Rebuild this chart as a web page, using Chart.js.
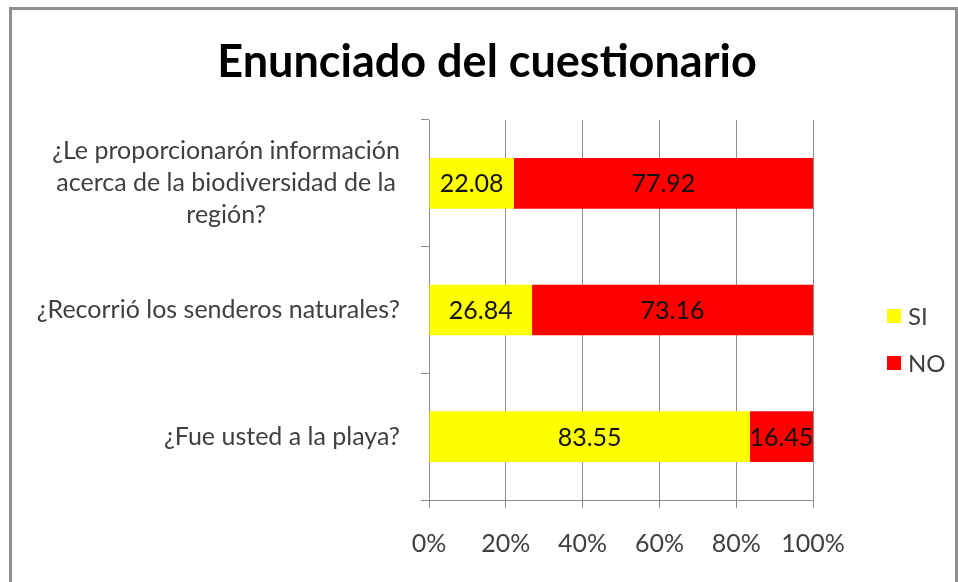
<!DOCTYPE html>
<html><head><meta charset="utf-8">
<script src="https://cdn.jsdelivr.net/npm/chart.js@4/dist/chart.umd.min.js"></script>
<style>html,body{margin:0;padding:0;background:#fff;}canvas{display:block;}</style>
</head><body>
<canvas id="c" width="958" height="582"></canvas>
<script>
const titleText = "Enunciado del cuestionario";
const categories = [
  ["¿Le proporcionarón información", "acerca de la biodiversidad de la", "región?"],
  ["¿Recorrió los senderos naturales?"],
  ["¿Fue usted a la playa?"]
];
const seriesNames = ["SI", "NO"];
const siValues = [22.08, 26.84, 83.55];
const noValues = [77.92, 73.16, 16.45];
const xTickValues = [0, 20, 40, 60, 80, 100];
const seriesColors = ["#FFFF00", "#FF0000"];

const FONT = "Lato, 'Open Sans', sans-serif";
const GRID = "#8c8c8c";
const TEXT = "#404040";

const customDraw = {
  id: "customDraw",
  beforeDraw(chart) {
    const ctx = chart.ctx;
    ctx.save();
    ctx.fillStyle = "#ffffff";
    ctx.fillRect(0, 0, chart.width, chart.height);
    ctx.restore();
  },
  afterDatasetsDraw(chart) {
    const ctx = chart.ctx;
    ctx.save();
    ctx.font = "25px " + FONT;
    ctx.fillStyle = "#111111";
    ctx.textAlign = "center";
    ctx.textBaseline = "middle";
    chart.data.datasets.forEach((ds, di) => {
      const meta = chart.getDatasetMeta(di);
      meta.data.forEach((bar, i) => {
        const v = ds.data[i];
        const cx = (bar.x + bar.base) / 2;
        ctx.fillText(v.toFixed(2), cx, bar.y + 1);
      });
    });
    ctx.restore();
  },
  afterDraw(chart) {
    const ctx = chart.ctx;
    const ys = chart.scales.y;
    const area = chart.chartArea;
    ctx.save();
    // outer border
    ctx.strokeStyle = "#8f8f8f";
    ctx.lineWidth = 3;
    ctx.strokeRect(10.5, 8.5, 946, 600);
    // title
    ctx.fillStyle = "#000000";
    ctx.font = "bold 45px " + FONT;
    ctx.textAlign = "center";
    ctx.textBaseline = "middle";
    ctx.fillText(titleText, 487, 62);
    // category labels
    ctx.font = "25px " + FONT;
    ctx.fillStyle = TEXT;
    const blockRight = area.left - 8 - 21;
    const lineH = 32;
    categories.forEach((lines, i) => {
      const cy = ys.getPixelForValue(i);
      let w = 0;
      lines.forEach(l => { w = Math.max(w, ctx.measureText(l).width); });
      const cx = blockRight - w / 2;
      const y0 = cy - (lines.length - 1) * lineH / 2;
      lines.forEach((l, k) => ctx.fillText(l, cx, y0 + k * lineH));
    });
    // legend
    ctx.textAlign = "left";
    ctx.font = "24px " + FONT;
    const legY = [316, 363];
    chart.data.datasets.forEach((ds, di) => {
      ctx.fillStyle = ds.backgroundColor;
      ctx.fillRect(887, legY[di] - 7, 14, 14);
      ctx.fillStyle = TEXT;
      ctx.fillText(ds.label, 908, legY[di] + 1);
    });
    ctx.restore();
  }
};

new Chart(document.getElementById("c"), {
  type: "bar",
  data: {
    labels: categories,
    datasets: [
      { label: seriesNames[0], data: siValues, backgroundColor: seriesColors[0], borderWidth: 0 },
      { label: seriesNames[1], data: noValues, backgroundColor: seriesColors[1], borderWidth: 0 }
    ]
  },
  options: {
    indexAxis: "y",
    responsive: false,
    animation: false,
    devicePixelRatio: 1,
    layout: { padding: { top: 120, right: 145, bottom: 2, left: 421 } },
    datasets: { bar: { barPercentage: 0.4, categoryPercentage: 1.0 } },
    plugins: { legend: { display: false }, title: { display: false }, tooltip: { enabled: false } },
    scales: {
      x: {
        stacked: true, min: 0, max: 100,
        afterBuildTicks(scale) { scale.ticks = xTickValues.map(v => ({ value: v })); },
        ticks: { callback: v => v + "%", color: TEXT, font: { family: FONT, size: 25 }, padding: 21, maxRotation: 0 },
        grid: { color: GRID, lineWidth: 1, tickLength: 8, drawTicks: true },
        border: { color: GRID, width: 1 }
      },
      y: {
        stacked: true, offset: true,
        afterFit(scale) { scale.width = 8; },
        ticks: { display: false },
        grid: { drawOnChartArea: false, drawTicks: true, tickLength: 8, color: GRID, offset: true },
        border: { color: GRID, width: 1 }
      }
    }
  },
  plugins: [customDraw]
});
</script>
</body></html>
